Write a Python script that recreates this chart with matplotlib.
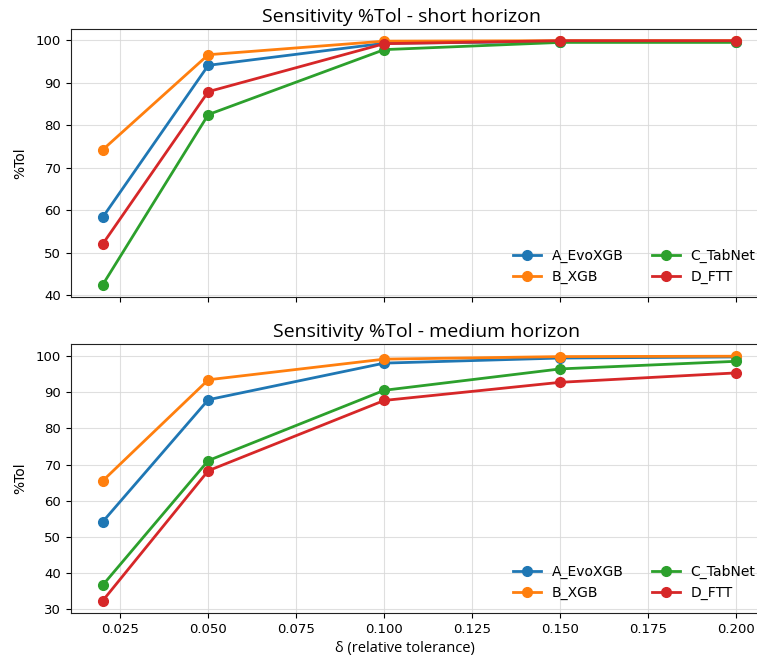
import matplotlib
matplotlib.use("Agg")
import matplotlib.pyplot as plt

deltas = [0.02, 0.05, 0.10, 0.15, 0.20]
models = ["A_EvoXGB", "B_XGB", "C_TabNet", "D_FTT"]
colors = ["#1f77b4", "#ff7f0e", "#2ca02c", "#d62728"]

short_vals = {
    "A_EvoXGB": [58.3, 94.1, 99.3, 99.7, 99.7],
    "B_XGB":    [74.2, 96.6, 99.8, 99.9, 99.9],
    "C_TabNet": [42.4, 82.5, 97.8, 99.5, 99.5],
    "D_FTT":    [52.0, 87.9, 99.2, 99.9, 99.9],
}
medium_vals = {
    "A_EvoXGB": [54.2, 87.9, 98.0, 99.4, 99.7],
    "B_XGB":    [65.5, 93.4, 99.1, 99.8, 99.9],
    "C_TabNet": [36.7, 71.1, 90.5, 96.4, 98.5],
    "D_FTT":    [32.4, 68.3, 87.7, 92.7, 95.3],
}
titles = ["Sensitivity %Tol - short horizon", "Sensitivity %Tol - medium horizon"]

W, H = 757, 659
fig = plt.figure(figsize=(W / 100, H / 100), dpi=100)

AX_L, AX_R = 71, 768

def box(l, t, r, b):
    return [l / W, 1 - b / H, (r - l) / W, (b - t) / H]

ax1 = fig.add_axes(box(AX_L, 28.5, AX_R, 297))
ax2 = fig.add_axes(box(AX_L, 344, AX_R, 613), sharex=ax1)

title_left_px = [262, 273]

for ax, data, title, tl in [(ax1, short_vals, titles[0], title_left_px[0]),
                            (ax2, medium_vals, titles[1], title_left_px[1])]:
    for m, c in zip(models, colors):
        ax.plot(deltas, data[m], marker="o", color=c, lw=2, ms=7, label=m)
    t = ax.set_title(title, family="Open Sans", fontsize=14, pad=5, loc="left")
    t.set_x((tl - AX_L) / (AX_R - AX_L))
    ax.set_ylabel("%Tol", fontsize=10, labelpad=6)
    ax.grid(True, color="#d8d8d8", lw=0.8, alpha=0.8)
    ax.tick_params(labelsize=9.5)
    for s in ax.spines.values():
        s.set_color("#222222")
    ax.legend(loc="lower right", ncol=2, frameon=False, fontsize=10,
              columnspacing=2.0, handlelength=2.0)

ax1.tick_params(labelbottom=False)
xl = ax2.set_xlabel("δ (relative tolerance)", family="Open Sans", fontsize=10.5)
xl.set_horizontalalignment("left")
xl.set_x((335 - AX_L) / (AX_R - AX_L))

fig.savefig("out.png", dpi=100)
